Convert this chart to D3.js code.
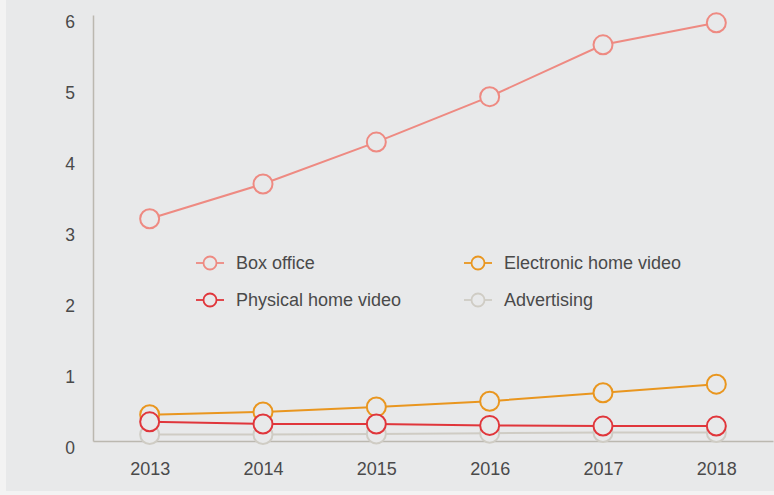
<!DOCTYPE html>
<html>
<head>
<meta charset="utf-8">
<script src="https://cdn.jsdelivr.net/npm/d3@7"></script>
<style>
  html, body { margin: 0; padding: 0; background: #f3f3f3; }
  svg { display: block; }
</style>
</head>
<body>
<svg id="chart" width="774" height="495"></svg>
<script>
const years = ["2013", "2014", "2015", "2016", "2017", "2018"];
const boxOffice = [3.13, 3.62, 4.21, 4.85, 5.58, 5.89];
const electronicHomeVideo = [0.37, 0.41, 0.48, 0.56, 0.68, 0.80];
const physicalHomeVideo = [0.27, 0.24, 0.24, 0.22, 0.21, 0.21];
const advertising = [0.09, 0.09, 0.10, 0.11, 0.12, 0.12];
const yTicks = [0, 1, 2, 3, 4, 5, 6];
const seriesNames = ["Box office", "Electronic home video", "Physical home video", "Advertising"];
const seriesColors = ["#ee8a82", "#e9961f", "#e0363b", "#cfccc4"];

const bg = "#e8e9ea";
const textColor = "#4a4a4a";
const font = "'Liberation Sans', Arial, sans-serif";

const svg = d3.select("#chart");
svg.append("rect").attr("x", 6).attr("y", 0).attr("width", 768).attr("height", 491).attr("fill", bg);

const x = d3.scalePoint().domain(years).range([93, 773]).padding(0.5);
const y = d3.scaleLinear().domain([0, 6]).range([441, 15]);

// axes
const yAxis = svg.append("g").attr("transform", "translate(93,0)")
  .call(d3.axisLeft(y).tickValues(yTicks).tickSize(0).tickSizeOuter(0).tickPadding(18).tickFormat(d3.format("d")));
yAxis.select(".domain").attr("stroke", "#bbb8b0").attr("stroke-width", 1.5);
yAxis.selectAll("text").attr("dy", "0.71em").attr("fill", textColor).style("font-family", font).style("font-size", "17.5px");

const xAxis = svg.append("g").attr("transform", "translate(0,441)")
  .call(d3.axisBottom(x).tickSize(0).tickSizeOuter(0).tickPadding(21));
xAxis.select(".domain").attr("stroke", "#bbb8b0").attr("stroke-width", 1.5);
xAxis.selectAll("text").attr("fill", textColor).style("font-family", font).style("font-size", "18px");

// series
const allSeries = [boxOffice, electronicHomeVideo, physicalHomeVideo, advertising];
const drawOrder = [3, 1, 2, 0];
const line = d3.line().x((d, i) => x(years[i])).y(d => y(d));

drawOrder.forEach(k => {
  const g = svg.append("g");
  g.append("path").datum(allSeries[k]).attr("d", line)
    .attr("fill", "none").attr("stroke", seriesColors[k]).attr("stroke-width", 2);
  g.selectAll("circle").data(allSeries[k]).join("circle")
    .attr("cx", (d, i) => x(years[i])).attr("cy", d => y(d)).attr("r", 9.5)
    .attr("fill", bg).attr("stroke", seriesColors[k]).attr("stroke-width", 2);
});

// legend
const legendPos = [[210, 263], [478, 263], [210, 300], [478, 300]];
seriesNames.forEach((name, k) => {
  const [cx, cy] = legendPos[k];
  const g = svg.append("g");
  g.append("line").attr("x1", cx - 14).attr("x2", cx + 14).attr("y1", cy).attr("y2", cy)
    .attr("stroke", seriesColors[k]).attr("stroke-width", 1.8);
  g.append("circle").attr("cx", cx).attr("cy", cy).attr("r", 6.5)
    .attr("fill", bg).attr("stroke", seriesColors[k]).attr("stroke-width", 1.8);
  g.append("text").attr("x", cx + 26).attr("y", cy).attr("dy", "0.35em")
    .attr("fill", textColor).style("font-family", font).style("font-size", "18px").text(name);
});
</script>
</body>
</html>
